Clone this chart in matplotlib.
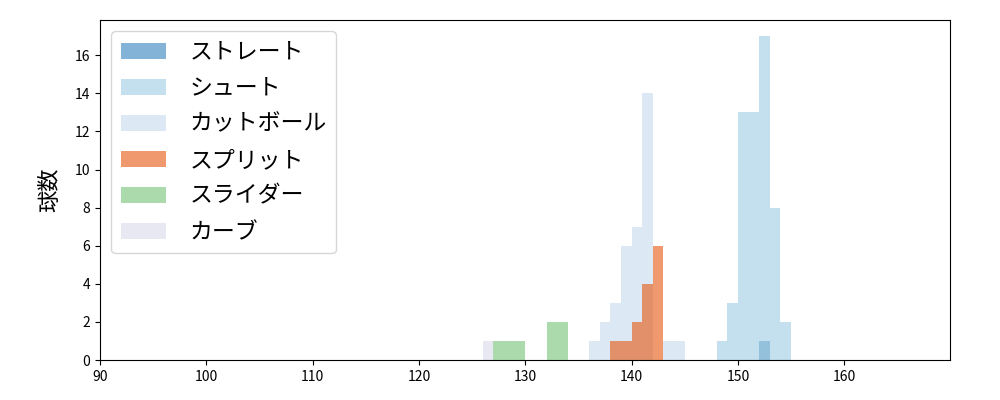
import numpy as np
import matplotlib
matplotlib.use("Agg")
import matplotlib.pyplot as plt

plt.rcParams['font.family'] = ['Noto Sans CJK JP', 'DejaVu Sans']

pitch_types = ["ストレート", "シュート", "カットボール", "スプリット", "スライダー", "カーブ"]
colors = ["#3182bd", "#9ecae1", "#c6dbef", "#e6550d", "#74c476", "#dadaeb"]

# speed bin (left edge, km/h) -> count
straight_speeds = [152]
straight_counts = [1]
shoot_speeds = [148, 149, 150, 151, 152, 153, 154]
shoot_counts = [1, 3, 13, 13, 17, 8, 2]
cut_speeds = [136, 137, 138, 139, 140, 141, 143, 144]
cut_counts = [1, 2, 3, 6, 7, 14, 1, 1]
split_speeds = [138, 139, 140, 141, 142]
split_counts = [1, 1, 2, 4, 6]
slider_speeds = [127, 128, 129, 132, 133]
slider_counts = [1, 1, 1, 2, 2]
curve_speeds = [126]
curve_counts = [1]

series = [
    (straight_speeds, straight_counts),
    (shoot_speeds, shoot_counts),
    (cut_speeds, cut_counts),
    (split_speeds, split_counts),
    (slider_speeds, slider_counts),
    (curve_speeds, curve_counts),
]

bins = np.arange(90, 171, 1)

fig, ax = plt.subplots(figsize=(10, 4), dpi=100)
fig.subplots_adjust(left=0.1, right=0.95, top=0.95, bottom=0.1)

for name, col, (sp, ct) in zip(pitch_types, colors, series):
    ax.hist(np.array(sp) + 0.5, bins=bins, weights=ct, color=col, alpha=0.6, label=name)

ax.set_xlim(90, 169.95)
ax.set_ylabel("球数", fontsize=16, labelpad=10)
ax.legend(loc="upper left", fontsize=16.5, labelspacing=0.57, handletextpad=1.0)

fig.savefig("out.png")
